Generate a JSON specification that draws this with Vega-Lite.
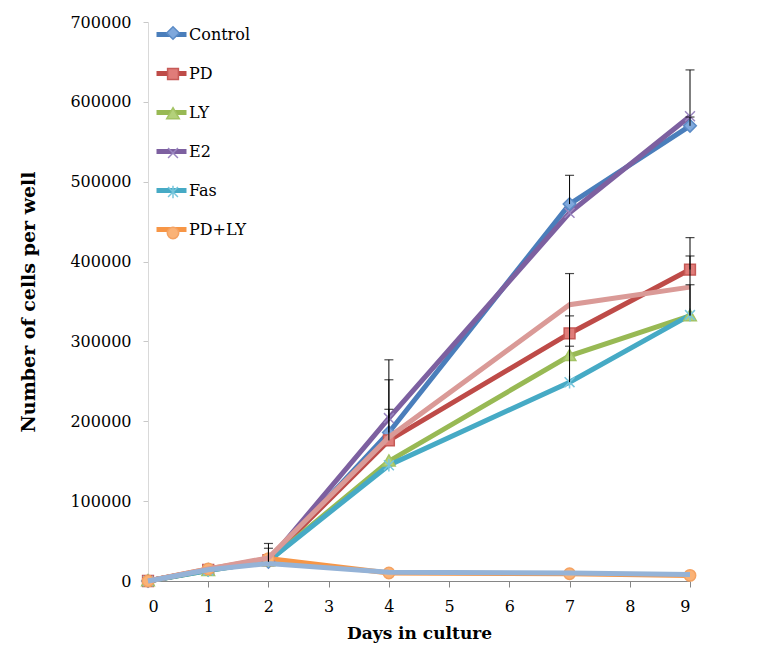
{
  "$schema": "https://vega.github.io/schema/vega-lite/v6.json",
  "autosize": "none",
  "width": 542,
  "height": 559,
  "padding": {"left": 148, "top": 22, "right": 82, "bottom": 76},
  "background": "white",
  "config": {
    "view": {"stroke": null},
    "font": "DejaVu Serif",
    "axis": {"labelFont": "DejaVu Serif", "titleFont": "DejaVu Serif", "labelColor": "#000", "titleColor": "#000", "grid": false}
  },
  "datasets": {
    "main": [
      {"series": "Control", "day": 0, "cells": 0},
      {"series": "Control", "day": 1, "cells": 14000},
      {"series": "Control", "day": 2, "cells": 24000},
      {"series": "Control", "day": 4, "cells": 186000},
      {"series": "Control", "day": 7, "cells": 472000},
      {"series": "Control", "day": 9, "cells": 570000},
      {"series": "PD", "day": 0, "cells": 0},
      {"series": "PD", "day": 1, "cells": 14000},
      {"series": "PD", "day": 2, "cells": 26000},
      {"series": "PD", "day": 4, "cells": 176000},
      {"series": "PD", "day": 7, "cells": 310000},
      {"series": "PD", "day": 9, "cells": 390000},
      {"series": "LY", "day": 0, "cells": 0},
      {"series": "LY", "day": 1, "cells": 13000},
      {"series": "LY", "day": 2, "cells": 25000},
      {"series": "LY", "day": 4, "cells": 150000},
      {"series": "LY", "day": 7, "cells": 282000},
      {"series": "LY", "day": 9, "cells": 332000},
      {"series": "E2", "day": 0, "cells": 0},
      {"series": "E2", "day": 1, "cells": 14000},
      {"series": "E2", "day": 2, "cells": 25000},
      {"series": "E2", "day": 4, "cells": 204000},
      {"series": "E2", "day": 7, "cells": 461000},
      {"series": "E2", "day": 9, "cells": 582000},
      {"series": "Fas", "day": 0, "cells": 0},
      {"series": "Fas", "day": 1, "cells": 13000},
      {"series": "Fas", "day": 2, "cells": 25000},
      {"series": "Fas", "day": 4, "cells": 145000},
      {"series": "Fas", "day": 7, "cells": 249000},
      {"series": "Fas", "day": 9, "cells": 333000},
      {"series": "PD+LY", "day": 0, "cells": 0},
      {"series": "PD+LY", "day": 1, "cells": 15000},
      {"series": "PD+LY", "day": 2, "cells": 28000},
      {"series": "PD+LY", "day": 4, "cells": 10000},
      {"series": "PD+LY", "day": 7, "cells": 9000},
      {"series": "PD+LY", "day": 9, "cells": 7000}
    ],
    "extra": [
      {"series": "Series7", "day": 0, "cells": 0},
      {"series": "Series7", "day": 1, "cells": 15000},
      {"series": "Series7", "day": 2, "cells": 29000},
      {"series": "Series7", "day": 4, "cells": 180000},
      {"series": "Series7", "day": 7, "cells": 346000},
      {"series": "Series7", "day": 9, "cells": 368000},
      {"series": "Series8", "day": 0, "cells": 0},
      {"series": "Series8", "day": 1, "cells": 14000},
      {"series": "Series8", "day": 2, "cells": 22000},
      {"series": "Series8", "day": 4, "cells": 11000},
      {"series": "Series8", "day": 7, "cells": 10000},
      {"series": "Series8", "day": 9, "cells": 8000}
    ],
    "errors": [
      {"series": "Control", "day": 2, "cells": 24000, "upper": 47000},
      {"series": "E2", "day": 2, "cells": 25000, "upper": 41000},
      {"series": "E2", "day": 4, "cells": 204000, "upper": 277000},
      {"series": "Control", "day": 4, "cells": 186000, "upper": 252000},
      {"series": "PD", "day": 4, "cells": 176000, "upper": 215000},
      {"series": "Control", "day": 7, "cells": 472000, "upper": 508000},
      {"series": "PD", "day": 7, "cells": 310000, "upper": 385000},
      {"series": "LY", "day": 7, "cells": 282000, "upper": 332000},
      {"series": "Fas", "day": 7, "cells": 249000, "upper": 294000},
      {"series": "E2", "day": 9, "cells": 582000, "upper": 640000},
      {"series": "Control", "day": 9, "cells": 570000, "upper": 581000},
      {"series": "PD", "day": 9, "cells": 390000, "upper": 430000},
      {"series": "Fas", "day": 9, "cells": 333000, "upper": 407000},
      {"series": "LY", "day": 9, "cells": 332000, "upper": 371000}
    ]
  },
  "encoding": {
    "x": {
      "field": "day", "type": "quantitative",
      "scale": {"domain": [0, 9], "nice": false, "zero": false},
      "axis": {
        "title": "Days in culture", "values": [0,1,2,3,4,5,6,7,8,9],
        "domainColor": "#868686", "tickColor": "#868686", "tickSize": 6,
        "labelFontSize": 16, "labelPadding": 11,
        "titleFontSize": 17, "titleFontWeight": "bold", "titlePadding": 11
      }
    },
    "y": {
      "field": "cells", "type": "quantitative",
      "scale": {"domain": [0, 700000], "nice": false},
      "axis": {
        "title": "Number of cells per well",
        "values": [0,100000,200000,300000,400000,500000,600000,700000],
        "format": "d",
        "domainColor": "#d9d9d9", "tickColor": "#c8c8c8", "tickSize": 5,
        "labelFontSize": 16, "labelPadding": 12,
        "titleFontSize": 19, "titleFontWeight": "bold", "titlePadding": 31
      }
    }
  },
  "layer": [
    {
      "data": {"name": "main"},
      "mark": {"type": "line", "strokeWidth": 5},
      "encoding": {
        "color": {
          "field": "series", "type": "nominal",
          "scale": {
            "domain": ["Control", "PD", "LY", "E2", "Fas", "PD+LY", "Series7", "Series8"],
            "range": ["#4A7EBB", "#BE4B48", "#98B954", "#7D60A0", "#46AAC5", "#F79646", "#DA9A97", "#95B3D7"]
          },
          "legend": {
            "orient": "none", "legendX": 6, "legendY": -5, "title": null,
            "values": ["Control", "PD", "LY", "E2", "Fas", "PD+LY"],
            "symbolType": "stroke", "symbolSize": 900, "symbolStrokeWidth": 5,
            "labelFont": "DejaVu Serif", "labelFontSize": 16, "labelColor": "#000",
            "labelOffset": 0, "rowPadding": 11, "padding": 0
          }
        }
      }
    },
    {
      "data": {"name": "main"},
      "mark": {"type": "point", "filled": true, "size": 900, "strokeWidth": 1.5, "opacity": 1},
      "encoding": {
        "shape": {
          "field": "series", "type": "nominal",
          "scale": {
            "domain": ["Control", "PD", "LY", "E2", "Fas", "PD+LY"],
            "range": [
              "M0,-0.42L0.42,0L0,0.42L-0.42,0Z",
              "M-0.36,-0.36H0.36V0.36H-0.36Z",
              "M0,-0.42L0.42,0.32H-0.42Z",
              "M-0.33,-0.33L0.33,0.33M-0.33,0.33L0.33,-0.33",
              "M-0.33,-0.33L0.33,0.33M-0.33,0.33L0.33,-0.33M0,-0.42V0.42",
              "M-0.38,0A0.38,0.38 0 1,0 0.38,0A0.38,0.38 0 1,0 -0.38,0Z"
            ]
          },
          "legend": {
            "orient": "none", "legendX": 9, "legendY": -5, "title": null,
            "symbolSize": 900, "symbolStrokeWidth": 1.5,
            "labelFont": "DejaVu Serif", "labelFontSize": 16, "labelExpr": "''",
            "labelOffset": 2, "rowPadding": 15, "padding": 0,
            "encode": {
              "symbols": {
                "update": {
                  "fill": {"scale": "fill", "field": "value"},
                  "stroke": {"scale": "stroke", "field": "value"},
                  "opacity": {"value": 1}
                }
              }
            }
          }
        },
        "fill": {
          "field": "series", "type": "nominal",
          "scale": {
            "domain": ["Control", "PD", "LY", "E2", "Fas", "PD+LY"],
            "range": ["#7FA8DC", "#E07C79", "#B3D17A", "#9A82BA", "#6CC7E0", "#FAB276"]
          },
          "legend": null
        },
        "stroke": {
          "field": "series", "type": "nominal",
          "scale": {
            "domain": ["Control", "PD", "LY", "E2", "Fas", "PD+LY"],
            "range": ["#5B8BC6", "#C65A57", "#A3C364", "#9A86C0", "#78C6DC", "#F4A262"]
          },
          "legend": null
        }
      }
    },
    {
      "data": {"name": "extra"},
      "mark": {"type": "line", "strokeWidth": 5},
      "encoding": {
        "color": {"field": "series", "type": "nominal"}
      }
    },
    {
      "data": {"name": "errors"},
      "mark": {"type": "rule", "color": "#000", "strokeWidth": 1},
      "encoding": {
        "y2": {"field": "upper"}
      }
    },
    {
      "data": {"name": "errors"},
      "mark": {"type": "tick", "orient": "horizontal", "color": "#000", "size": 9, "thickness": 1.2},
      "encoding": {
        "y": {"field": "upper", "type": "quantitative"}
      }
    }
  ]
}
